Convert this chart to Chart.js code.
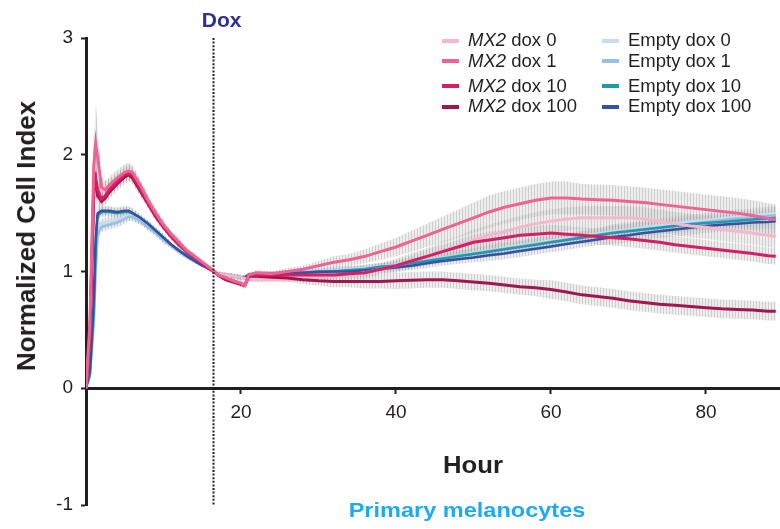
<!DOCTYPE html>
<html><head><meta charset="utf-8">
<script src="https://cdn.jsdelivr.net/npm/chart.js@4.4.1/dist/chart.umd.min.js"></script>
<style>
html,body{margin:0;padding:0;background:#fff;}
#wrap{position:relative;width:780px;height:529px;overflow:hidden;font-family:'Liberation Sans',Arial,Helvetica,sans-serif;color:#231f20;}
#c{position:absolute;left:0;top:0;}
.t{position:absolute;white-space:nowrap;line-height:1;}
.sw{position:absolute;width:17px;height:4px;}
</style></head><body>
<div id="wrap"><canvas id="c" width="780" height="529"></canvas></div>
<script>
// ---------- data ----------
const hours = [0, 0.5, 1, 1.25, 1.5, 2, 2.5, 3,
  4, 5, 5.5, 6, 7, 8, 9, 10, 11, 12, 13, 14, 15, 16, 16.5,
  17, 18, 19, 20, 20.5, 21, 22,
  24, 26, 28, 30, 32, 34, 36, 38, 40, 42, 44, 46, 48, 50, 52, 54, 56, 58, 60, 62, 64, 66, 68, 70, 72, 74, 76, 78, 80, 82, 84, 86, 88, 89];

const mx2Dox0 = [0, 0.45, 1.65, 1.72, 1.72, 1.70, 1.71, 1.73,
  1.78, 1.84, 1.86, 1.84, 1.73, 1.60, 1.49, 1.39, 1.31, 1.24, 1.18, 1.13, 1.08, 1.03, 1.00,
  0.98, 0.97, 0.96, 0.95, 0.94, 0.93, 0.93,
  0.93, 0.93, 0.94, 0.95, 0.96, 0.97, 0.99, 1.02, 1.05, 1.09, 1.13, 1.18, 1.22, 1.27, 1.31, 1.34, 1.38, 1.41, 1.43, 1.45, 1.46, 1.46, 1.46, 1.46, 1.45, 1.43, 1.41, 1.39, 1.38, 1.36, 1.345, 1.33, 1.31, 1.30];
const mx2Dox1 = [0, 0.55, 1.90, 2.10, 1.98, 1.72, 1.70, 1.74,
  1.80, 1.85, 1.86, 1.85, 1.74, 1.61, 1.50, 1.40, 1.32, 1.25, 1.18, 1.13, 1.08, 1.03, 1.00,
  0.97, 0.95, 0.92, 0.90, 0.88, 0.97, 0.99,
  0.98, 1.00, 1.02, 1.05, 1.08, 1.10, 1.13, 1.17, 1.21, 1.26, 1.31, 1.36, 1.41, 1.46, 1.51, 1.55, 1.58, 1.61, 1.63, 1.63, 1.62, 1.615, 1.61, 1.60, 1.59, 1.575, 1.56, 1.545, 1.53, 1.515, 1.50, 1.48, 1.455, 1.445];
const mx2Dox10 = [0, 0.45, 1.72, 1.80, 1.70, 1.62, 1.65, 1.70,
  1.77, 1.83, 1.84, 1.82, 1.71, 1.59, 1.48, 1.38, 1.30, 1.23, 1.17, 1.12, 1.07, 1.02, 1.00,
  0.97, 0.94, 0.92, 0.89, 0.88, 0.97, 0.97,
  0.97, 0.97, 0.97, 0.97, 0.97, 0.98, 0.99, 1.02, 1.05, 1.09, 1.13, 1.17, 1.21, 1.25, 1.27, 1.29, 1.31, 1.32, 1.33, 1.32, 1.31, 1.30, 1.29, 1.28, 1.265, 1.25, 1.23, 1.215, 1.20, 1.185, 1.17, 1.155, 1.135, 1.13];
const mx2Dox100 = [0, 0.40, 1.70, 1.78, 1.65, 1.60, 1.63, 1.68,
  1.75, 1.81, 1.83, 1.80, 1.69, 1.58, 1.47, 1.38, 1.30, 1.23, 1.17, 1.12, 1.07, 1.02, 1.00,
  0.97, 0.93, 0.91, 0.89, 0.88, 0.96, 0.96,
  0.95, 0.945, 0.93, 0.92, 0.915, 0.915, 0.915, 0.915, 0.92, 0.925, 0.93, 0.93, 0.92, 0.91, 0.90, 0.885, 0.87, 0.86, 0.845, 0.825, 0.80, 0.785, 0.77, 0.75, 0.735, 0.72, 0.71, 0.70, 0.69, 0.68, 0.675, 0.67, 0.66, 0.66];
const emptyDox0 = [0, 0.12, 0.60, 1.05, 1.35, 1.41, 1.42, 1.43,
  1.44, 1.47, 1.48, 1.48, 1.44, 1.39, 1.34, 1.28, 1.22, 1.17, 1.13, 1.09, 1.05, 1.02, 1.00,
  0.98, 0.97, 0.96, 0.95, 0.95, 0.96, 0.97,
  0.98, 0.99, 1.00, 1.005, 1.01, 1.02, 1.03, 1.045, 1.06, 1.08, 1.10, 1.12, 1.14, 1.16, 1.18, 1.20, 1.225, 1.245, 1.265, 1.285, 1.305, 1.325, 1.345, 1.36, 1.38, 1.395, 1.41, 1.43, 1.44, 1.455, 1.47, 1.48, 1.495, 1.50];
const emptyDox1 = [0, 0.10, 0.55, 1.00, 1.32, 1.38, 1.39, 1.40,
  1.42, 1.45, 1.47, 1.47, 1.43, 1.38, 1.33, 1.27, 1.22, 1.17, 1.13, 1.09, 1.05, 1.02, 1.00,
  0.98, 0.97, 0.96, 0.95, 0.95, 0.97, 0.98,
  0.985, 0.99, 0.995, 1.00, 1.005, 1.015, 1.025, 1.04, 1.055, 1.075, 1.095, 1.115, 1.135, 1.155, 1.175, 1.195, 1.215, 1.235, 1.255, 1.275, 1.295, 1.315, 1.335, 1.35, 1.365, 1.38, 1.395, 1.41, 1.425, 1.44, 1.455, 1.465, 1.475, 1.48];
const emptyDox10 = [0, 0.12, 0.65, 1.20, 1.48, 1.51, 1.51, 1.51,
  1.50, 1.51, 1.51, 1.50, 1.46, 1.41, 1.35, 1.29, 1.23, 1.18, 1.14, 1.10, 1.06, 1.02, 1.00,
  0.98, 0.97, 0.96, 0.95, 0.95, 0.97, 0.98,
  0.98, 0.99, 0.99, 1.00, 1.00, 1.01, 1.02, 1.04, 1.05, 1.07, 1.09, 1.11, 1.13, 1.15, 1.17, 1.19, 1.21, 1.23, 1.25, 1.27, 1.29, 1.31, 1.33, 1.345, 1.36, 1.375, 1.39, 1.405, 1.415, 1.425, 1.435, 1.445, 1.455, 1.46];
const emptyDox100 = [0, 0.15, 0.75, 1.30, 1.50, 1.52, 1.52, 1.52,
  1.51, 1.52, 1.52, 1.50, 1.46, 1.41, 1.35, 1.29, 1.23, 1.18, 1.13, 1.09, 1.05, 1.02, 1.00,
  0.98, 0.97, 0.96, 0.95, 0.95, 0.97, 0.98,
  0.98, 0.985, 0.99, 0.995, 1.00, 1.00, 1.01, 1.02, 1.035, 1.05, 1.07, 1.09, 1.105, 1.12, 1.14, 1.155, 1.175, 1.195, 1.215, 1.235, 1.255, 1.275, 1.295, 1.31, 1.33, 1.345, 1.36, 1.375, 1.39, 1.40, 1.41, 1.42, 1.425, 1.43];

// standard deviations (grey error bars)
const errMx2Dox0 = [0, 0.04, 0.10, 0.10, 0.08, 0.06, 0.06, 0.06,
  0.06, 0.06, 0.06, 0.05, 0.05, 0.04, 0.04, 0.03, 0.03, 0.03, 0.02, 0.02, 0.02, 0.01, 0.00,
  0.02, 0.02, 0.02, 0.02, 0.02, 0.02, 0.02,
  0.02, 0.02, 0.03, 0.03, 0.04, 0.04, 0.05, 0.05, 0.06, 0.07, 0.07, 0.08, 0.08, 0.09, 0.09, 0.10, 0.10, 0.10, 0.10, 0.10, 0.10, 0.10, 0.10, 0.10, 0.10, 0.10, 0.10, 0.10, 0.10, 0.10, 0.10, 0.10, 0.10, 0.10];
const errMx2Dox1 = [0, 0.05, 0.25, 0.35, 0.25, 0.10, 0.08, 0.07,
  0.07, 0.07, 0.07, 0.06, 0.05, 0.05, 0.04, 0.04, 0.03, 0.03, 0.03, 0.02, 0.02, 0.01, 0.00,
  0.02, 0.02, 0.02, 0.03, 0.03, 0.02, 0.02,
  0.02, 0.03, 0.03, 0.04, 0.05, 0.05, 0.06, 0.07, 0.08, 0.09, 0.10, 0.11, 0.12, 0.13, 0.14, 0.14, 0.14, 0.14, 0.14, 0.14, 0.13, 0.13, 0.13, 0.13, 0.13, 0.13, 0.13, 0.13, 0.13, 0.13, 0.13, 0.13, 0.13, 0.13];
const errMx2Dox10 = [0, 0.04, 0.12, 0.15, 0.10, 0.07, 0.06, 0.06,
  0.06, 0.06, 0.06, 0.05, 0.05, 0.04, 0.04, 0.03, 0.03, 0.03, 0.02, 0.02, 0.02, 0.01, 0.00,
  0.02, 0.02, 0.02, 0.02, 0.02, 0.02, 0.02,
  0.02, 0.02, 0.02, 0.03, 0.03, 0.03, 0.04, 0.04, 0.05, 0.05, 0.06, 0.06, 0.06, 0.07, 0.07, 0.07, 0.07, 0.07, 0.07, 0.07, 0.07, 0.07, 0.07, 0.07, 0.07, 0.07, 0.07, 0.07, 0.07, 0.07, 0.07, 0.07, 0.07, 0.07];
const errMx2Dox100 = [0, 0.04, 0.12, 0.15, 0.10, 0.07, 0.06, 0.06,
  0.06, 0.06, 0.06, 0.05, 0.05, 0.04, 0.04, 0.03, 0.03, 0.03, 0.02, 0.02, 0.02, 0.01, 0.00,
  0.02, 0.02, 0.02, 0.02, 0.02, 0.02, 0.02,
  0.03, 0.03, 0.04, 0.04, 0.05, 0.05, 0.06, 0.06, 0.07, 0.07, 0.07, 0.07, 0.07, 0.07, 0.07, 0.07, 0.07, 0.07, 0.08, 0.08, 0.08, 0.08, 0.08, 0.08, 0.08, 0.08, 0.08, 0.08, 0.08, 0.08, 0.08, 0.08, 0.08, 0.08];
const errEmpty = [0, 0.03, 0.08, 0.08, 0.05, 0.04, 0.04, 0.04,
  0.04, 0.04, 0.04, 0.04, 0.03, 0.03, 0.03, 0.03, 0.02, 0.02, 0.02, 0.02, 0.01, 0.01, 0.00,
  0.02, 0.02, 0.02, 0.02, 0.02, 0.02, 0.02,
  0.02, 0.02, 0.02, 0.02, 0.03, 0.03, 0.03, 0.03, 0.03, 0.04, 0.04, 0.04, 0.04, 0.04, 0.05, 0.05, 0.05, 0.05, 0.05, 0.05, 0.05, 0.05, 0.06, 0.06, 0.06, 0.06, 0.06, 0.06, 0.06, 0.06, 0.06, 0.06, 0.06, 0.06];

const seriesNames = ['MX2 dox 0', 'MX2 dox 1', 'MX2 dox 10', 'MX2 dox 100',
                     'Empty dox 0', 'Empty dox 1', 'Empty dox 10', 'Empty dox 100'];
const xTickValues = [20, 40, 60, 80];
const yTickValues = [-1, 0, 1, 2, 3];
const doxHour = 16.45;
const xMin = 0, xMax = 89.55, yMin = -1, yMax = 3;

// ---------- styling ----------
const FONT = "'Liberation Sans', Arial, Helvetica, sans-serif";
const INK = '#231f20';
const seriesValues = [mx2Dox0, mx2Dox1, mx2Dox10, mx2Dox100, emptyDox0, emptyDox1, emptyDox10, emptyDox100];
const seriesErrors = [errMx2Dox0, errMx2Dox1, errMx2Dox10, errMx2Dox100, errEmpty, errEmpty, errEmpty, errEmpty];
const seriesColors = ['#f6b8cf', '#ef6293', '#d41f65', '#a0174f', '#c8ddf3', '#98bfe6', '#2199ac', '#3352a3'];
const seriesWidths = [3, 3, 3, 3, 2.5, 2.5, 2.5, 2.5];
const drawOrder = [1, 2, 3, 0, 7, 6, 5, 4]; // first = drawn on top

const datasets = drawOrder.map(i => ({
  label: seriesNames[i],
  data: hours.map((h, k) => ({x: h, y: seriesValues[i][k]})),
  errs: seriesErrors[i],
  borderColor: seriesColors[i],
  backgroundColor: seriesColors[i],
  borderWidth: seriesWidths[i],
  pointRadius: 0,
  fill: false,
  tension: 0
}));

// stripe pattern to imitate dense vertical grey error bars
function makePattern(ctx) {
  const c = document.createElement('canvas');
  c.width = 3; c.height = 4;
  const g = c.getContext('2d');
  g.fillStyle = 'rgba(205,205,205,0.35)';
  g.fillRect(0, 0, 3, 4);
  g.fillStyle = 'rgba(150,150,150,0.35)';
  g.fillRect(0, 0, 1, 4);
  return ctx.createPattern(c, 'repeat');
}

const errorBandPlugin = {
  id: 'errorBands',
  beforeDatasetsDraw(chart) {
    const {ctx, chartArea, scales: {x, y}} = chart;
    const pat = makePattern(ctx);
    ctx.save();
    ctx.beginPath();
    ctx.rect(chartArea.left, chartArea.top, chartArea.right - chartArea.left, chartArea.bottom - chartArea.top);
    ctx.clip();
    chart.data.datasets.forEach(ds => {
      const pts = ds.data, e = ds.errs;
      ctx.beginPath();
      pts.forEach((p, k) => {
        const px = x.getPixelForValue(p.x), py = y.getPixelForValue(p.y + e[k]);
        if (k === 0) ctx.moveTo(px, py); else ctx.lineTo(px, py);
      });
      for (let k = pts.length - 1; k >= 0; k--) {
        ctx.lineTo(x.getPixelForValue(pts[k].x), y.getPixelForValue(pts[k].y - e[k]));
      }
      ctx.closePath();
      ctx.fillStyle = pat;
      ctx.fill();
    });
    ctx.restore();
  }
};

const doxLinePlugin = {
  id: 'doxLine',
  afterDatasetsDraw(chart) {
    const {ctx, scales: {x, y}} = chart;
    const px = Math.round(x.getPixelForValue(doxHour)) + 0.5;
    ctx.save();
    ctx.strokeStyle = INK;
    ctx.lineWidth = 2;
    ctx.setLineDash([2, 1.6]);
    ctx.beginPath();
    ctx.moveTo(px, y.getPixelForValue(yMax));
    ctx.lineTo(px, y.getPixelForValue(yMin));
    ctx.stroke();
    ctx.restore();
  }
};

new Chart(document.getElementById('c'), {
  type: 'line',
  data: {datasets},
  options: {
    responsive: false,
    animation: false,
    devicePixelRatio: 1,
    layout: {padding: {left: 0, top: 38, right: 0, bottom: 24}},
    plugins: {legend: {display: false}, tooltip: {enabled: false}, title: {display: false}},
    scales: {
      x: {
        type: 'linear', min: xMin, max: xMax,
        position: {y: 0},
        afterBuildTicks: s => { s.ticks = xTickValues.map(v => ({value: v})); },
        afterFit: s => { s.height = 0; },
        grid: {drawOnChartArea: false, drawTicks: true, tickLength: 4, tickWidth: 2, tickColor: INK},
        border: {display: true, width: 3, color: INK},
        ticks: {font: {family: FONT, size: 19}, color: INK, padding: 9, maxRotation: 0, autoSkip: false}
      },
      y: {
        type: 'linear', min: yMin, max: yMax, position: 'left',
        afterBuildTicks: s => { s.ticks = yTickValues.map(v => ({value: v})); },
        afterFit: s => { s.width = 86; },
        grid: {drawOnChartArea: false, drawTicks: true, tickLength: 5, tickWidth: 2, tickColor: INK},
        border: {display: true, width: 3, color: INK},
        ticks: {font: {family: FONT, size: 19}, color: INK, padding: 8, autoSkip: false}
      }
    }
  },
  plugins: [errorBandPlugin, doxLinePlugin]
});

// ---------- text overlays ----------
const wrap = document.getElementById('wrap');
function addText(html, css) {
  const d = document.createElement('div');
  d.className = 't';
  d.innerHTML = html;
  Object.assign(d.style, css);
  wrap.appendChild(d);
  return d;
}
addText('Normalized Cell Index', {left: '25.5px', top: '236px', fontSize: '26px', fontWeight: 'bold',
  transform: 'translate(-50%,-50%) rotate(-90deg)'});
addText('Hour', {left: '473px', top: '465px', fontSize: '24px', fontWeight: 'bold',
  transform: 'translate(-50%,-50%) scaleX(1.07)'});
addText('Primary melanocytes', {left: '466.5px', top: '508.5px', fontSize: '21px', fontWeight: 'bold',
  color: '#1eaaf1', transform: 'translate(-50%,-50%) scaleX(1.12)'});
addText('Dox', {left: '221.7px', top: '18.7px', fontSize: '21px', fontWeight: 'bold',
  color: '#2e3192', transform: 'translate(-50%,-50%)'});

// legend (two columns, column-major)
const legendCols = [{sw: 442, tx: 468}, {sw: 602, tx: 628}];
const legendRows = [40.5, 61.3, 86.3, 106.5];
seriesNames.forEach((name, i) => {
  const col = legendCols[Math.floor(i / 4)], cy = legendRows[i % 4];
  const s = document.createElement('div');
  s.className = 'sw';
  s.style.left = col.sw + 'px';
  s.style.top = (cy - 2) + 'px';
  s.style.background = seriesColors[i];
  wrap.appendChild(s);
  addText(name.replace('MX2', '<i>MX2</i>'), {left: col.tx + 'px', top: (cy - 9.25) + 'px', fontSize: '18.5px'});
});
</script>
</body></html>
